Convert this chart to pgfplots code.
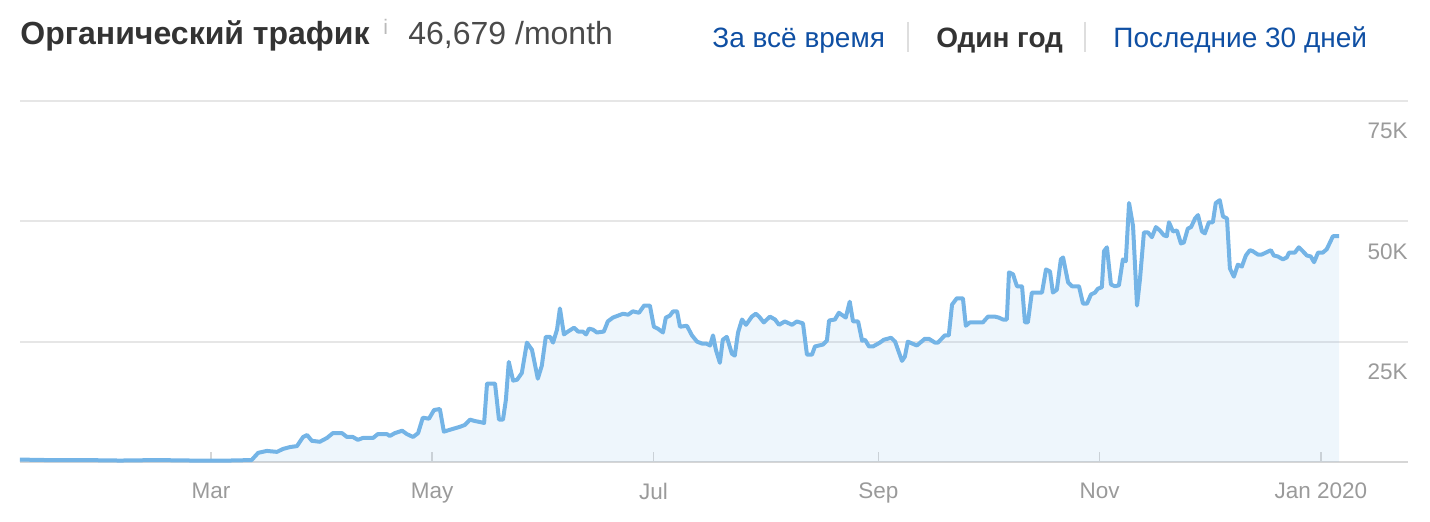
\documentclass[border=0pt]{standalone}
\usepackage{pgfplots}
\pgfplotsset{compat=1.18}
\usepackage{pgfplotstable}
\usepackage{fontspec}
\setmainfont{Liberation Sans}

\definecolor{titlec}{HTML}{333333}
\definecolor{valc}{HTML}{4A4A4A}
\definecolor{linkc}{HTML}{0F4FA3}
\definecolor{tickc}{HTML}{9A9A9A}
\definecolor{gridc}{HTML}{E6E6E6}
\definecolor{basec}{HTML}{D6D6D6}
\definecolor{linec}{HTML}{74B4E6}

% day 0 = 1 Mar 2019, organic traffic in thousands
\pgfplotstableread{
d v
-52.7 0.5
-45 0.4
-35 0.4
-25 0.3
-15 0.4
-5 0.3
5 0.3
11.2 0.4
13.0 1.9
15.4 2.3
18.2 2.1
19.8 2.7
21.8 3.1
23.7 3.3
25.4 5.2
26.5 5.6
27.8 4.4
30.0 4.2
32.0 5.0
33.6 6.0
36.1 6.0
37.5 5.2
39.1 5.2
40.5 4.6
41.9 5.0
44.7 5.0
46.0 5.8
48.5 5.8
49.3 5.4
50.7 6.0
52.7 6.5
54.0 5.8
55.7 5.2
57.1 6.0
58.4 9.2
60.1 9.0
61.5 10.8
63.1 11.0
64.2 6.3
65.9 6.7
68.6 7.3
70.0 7.7
71.4 8.8
72.8 8.5
74.2 8.3
75.3 8.1
76.1 16.3
78.3 16.3
79.4 8.8
80.5 8.8
81.3 12.9
82.1 20.8
83.3 16.9
84.4 17.1
85.7 18.5
87.1 24.8
88.5 23.3
90.1 17.3
91.2 20.0
92.3 26.0
93.5 26.0
94.3 24.8
95.4 27.5
96.2 31.9
97.3 26.5
98.4 27.1
100.1 27.9
101.2 27.1
102.5 27.1
103.4 26.5
104.2 27.7
105.3 27.5
106.4 26.9
108.3 27.1
109.4 29.2
110.8 30.0
112.2 30.4
113.6 30.8
115.0 30.6
116.3 31.3
118.0 31.0
119.4 32.5
121.0 32.5
122.1 28.1
123.2 27.7
124.6 26.9
125.4 30.0
126.5 30.4
127.4 31.3
128.5 31.3
129.3 28.1
131.2 28.3
132.6 26.3
134.0 25.0
135.4 24.6
136.5 24.6
137.6 24.2
138.4 26.3
139.2 23.3
140.3 20.6
141.1 25.4
142.2 26.0
143.6 22.5
144.4 22.1
145.3 26.9
146.4 29.6
147.5 28.5
149.1 30.2
150.2 30.8
151.1 30.2
152.4 29.0
154.1 30.2
155.5 29.6
156.6 28.5
158.2 29.2
160.2 28.5
161.5 29.2
163.2 28.8
164.3 22.3
165.7 22.3
166.5 24.0
168.7 24.4
169.8 25.2
170.4 29.4
172.0 29.6
173.1 31.0
175.0 30.0
176.1 33.3
177.0 29.2
178.4 29.2
179.5 25.2
180.3 25.4
181.4 24.0
182.5 24.0
184.4 24.8
185.5 25.4
187.5 25.8
188.6 25.0
190.5 21.0
191.3 21.9
192.1 25.0
194.6 24.2
196.8 25.6
197.9 25.6
199.6 24.8
200.4 24.8
202.3 26.3
203.4 26.3
204.3 32.7
205.6 34.0
207.3 34.0
208.1 28.3
209.2 29.0
210.9 29.0
212.8 29.0
214.2 30.2
216.1 30.2
217.2 30.0
218.3 29.6
219.4 29.6
220.0 39.4
221.1 39.0
222.2 36.5
223.6 36.5
224.4 29.0
225.2 29.0
226.3 35.2
229.1 35.2
230.2 40.0
231.3 39.6
232.1 35.2
233.2 35.8
234.3 42.1
234.9 42.5
236.3 37.3
237.4 36.5
239.3 36.5
240.4 32.9
241.5 32.9
242.6 34.8
243.7 35.2
244.5 36.0
245.6 36.3
246.2 43.8
247.0 44.6
248.1 36.9
249.2 36.5
250.3 36.7
251.4 42.1
252.2 41.7
253.1 53.8
254.2 49.0
255.3 32.5
256.1 37.9
257.2 47.7
258.3 47.7
259.4 46.7
260.5 48.8
261.6 48.1
262.7 47.1
263.5 46.9
264.1 49.8
265.2 47.9
266.3 48.1
267.4 45.4
268.2 45.6
269.3 48.5
270.2 48.8
271.3 50.6
272.1 51.3
273.2 47.9
274.0 47.5
275.1 49.8
276.2 49.8
277.0 53.8
278.1 54.4
279.0 51.0
280.1 50.6
280.9 40.2
282.0 38.5
283.1 41.0
284.2 40.6
285.3 42.9
286.4 44.0
287.2 43.8
288.6 43.1
289.7 43.1
290.8 43.5
292.2 44.0
293.0 42.9
294.1 42.7
295.5 42.1
296.6 42.5
297.2 43.5
298.8 43.5
299.9 44.6
301.0 43.8
302.1 42.9
303.2 42.7
304.1 41.5
305.2 43.5
306.5 43.5
307.6 44.2
309.3 46.9
311.0 46.9
}\traffic

\begin{document}
\begin{tikzpicture}
\path[use as bounding box] (0pt,0pt) rectangle (715pt,261pt);

% header
\node[anchor=base west, inner sep=0pt, text=titlec, font=\bfseries\fontsize{16}{19}\selectfont] at (10pt,238.5pt) {Органический трафик};
\node[anchor=base west, inner sep=0pt, text=black!27, font=\fontsize{10.5}{12}\selectfont] at (191.5pt,243.5pt) {i};
\node[anchor=base west, inner sep=0pt, text=valc, font=\fontsize{16}{19}\selectfont] at (204pt,238.5pt) {46,679 /month};
\node[anchor=base west, inner sep=0pt, text=linkc, font=\fontsize{14}{17}\selectfont] at (356pt,237pt) {За всё время};
\node[anchor=base west, inner sep=0pt, text=titlec, font=\bfseries\fontsize{14}{17}\selectfont] at (468pt,237pt) {Один год};
\node[anchor=base west, inner sep=0pt, text=linkc, font=\fontsize{14}{17}\selectfont] at (556.5pt,237pt) {Последние 30 дней};
\draw[black!13, line width=1pt] (454pt,250pt) -- (454pt,235pt);
\draw[black!13, line width=1pt] (542.5pt,250pt) -- (542.5pt,235pt);

\begin{axis}[
    at={(10pt,30pt)}, anchor=south west,
    scale only axis,
    width=694pt, height=180.5pt,
    xmin=-52.65, xmax=330, ymin=0, ymax=75,
    axis x line*=bottom, axis y line*=right,
    x axis line style={basec, line width=1.2pt},
    y axis line style={draw=none},
    xtick={0,61,122,184,245,306},
    xticklabels={Mar,May,Jul,Sep,Nov,Jan 2020},
    ytick={25,50,75},
    yticklabels={25K,50K,75K},
    ymajorgrids, grid style={gridc, line width=1pt},
    tick align=inside,
    major tick length=5pt,
    xtick style={basec, line width=0.8pt},
    ytick style={draw=none},
    ticklabel style={text=tickc, font=\fontsize{11.25}{13}\selectfont},
    xticklabel style={yshift=-7pt},
    yticklabel style={anchor=north east, inner sep=0pt, xshift=0pt, yshift=-11pt},
    /pgf/number format/assume math mode=true,
    clip=false,
]
\addplot[draw=none, fill=linec, fill opacity=0.12] table[x=d, y=v] {\traffic} \closedcycle;
\addplot[linec, line width=2pt, line join=round, no marks] table[x=d, y=v] {\traffic};
\end{axis}
\end{tikzpicture}
\end{document}
